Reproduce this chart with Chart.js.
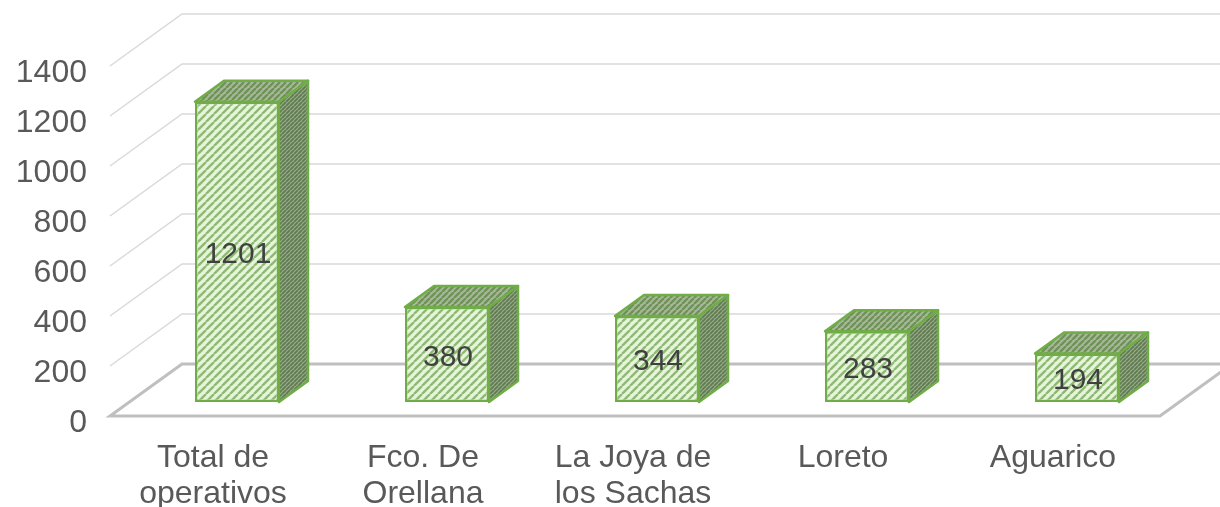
<!DOCTYPE html>
<html><head><meta charset="utf-8">
<style>html,body{margin:0;padding:0;background:#fff;overflow:hidden}canvas{display:block}</style>
<script src="https://cdn.jsdelivr.net/npm/chart.js@4"></script>
</head><body><canvas id="c" width="1220" height="507"></canvas>
<script>
const categories=[["Total de","operativos"],["Fco. De","Orellana"],["La Joya de","los Sachas"],["Loreto"],["Aguarico"]];
const values=[1201,380,344,283,194];
const yTicks=[0,200,400,600,800,1000,1200,1400];
const FONT='"Liberation Sans", Arial, sans-serif';
const WALL={dx:72,dy:-52}, BAR={dx:29,dy:-21}, SHIFT={dx:22,dy:-14};
function stripes(bg,fg,size,lw){
  const p=document.createElement('canvas');p.width=p.height=size;
  const x=p.getContext('2d');x.fillStyle=bg;x.fillRect(0,0,size,size);
  x.strokeStyle=fg;x.lineWidth=lw;
  x.beginPath();
  for(const o of [-size,0,size]){x.moveTo(o,size);x.lineTo(o+size,0);}
  x.stroke();
  return document.createElement('canvas').getContext('2d').createPattern(p,'repeat');
}
const facePat=stripes('#e6f5da','#8fb976',8,2.4);
const sidePat=stripes('#9aa893','#5f7d4c',4,1.8);
const topPat=stripes('#a9b89f','#6f9456',6,2.4);
const plugin3d={
  id:'plugin3d',
  afterLayout(chart){
    const s=chart.scales.y;
    if(s._shifted)return;
    s._shifted=true;
    const orig=s.drawLabels;
    s.drawLabels=function(a){const c=this.ctx;c.save();c.translate(0,7);orig.call(this,a);c.restore();};
  },
  beforeDatasetsDraw(chart){
    const {ctx,scales:{x,y}}=chart,l=x.left,r=x.right;
    ctx.save();ctx.lineCap='butt';ctx.lineJoin='miter';
    y.ticks.forEach((t,i)=>{
      const py=y.getPixelForTick(i);
      if(t.value===0)return;
      ctx.strokeStyle='#d9d9d9';ctx.lineWidth=1.5;
      ctx.beginPath();ctx.moveTo(l,py);ctx.lineTo(l+WALL.dx,py+WALL.dy);ctx.lineTo(1220,py+WALL.dy);ctx.stroke();
    });
    const py=y.getPixelForValue(0);
    ctx.strokeStyle='#bfbfbf';ctx.lineWidth=3;
    ctx.beginPath();ctx.moveTo(1220,py+WALL.dy);ctx.lineTo(l+WALL.dx,py+WALL.dy);ctx.lineTo(l,py);ctx.lineTo(r,py);
    ctx.lineTo(r+WALL.dx,py+WALL.dy);ctx.stroke();
    ctx.restore();
    ctx.save();ctx.translate(SHIFT.dx,SHIFT.dy);
  },
  afterDatasetsDraw(chart){
    const {ctx}=chart;
    chart.getDatasetMeta(0).data.forEach(b=>{
      const L=b.x-b.width/2,R=b.x+b.width/2,T=b.y,B=b.base;
      ctx.strokeStyle='#70ad47';ctx.lineWidth=2.5;ctx.lineJoin='round';
      ctx.fillStyle=sidePat;
      ctx.beginPath();ctx.moveTo(R,T);ctx.lineTo(R+BAR.dx,T+BAR.dy);ctx.lineTo(R+BAR.dx,B+BAR.dy);ctx.lineTo(R,B);ctx.closePath();ctx.fill();ctx.stroke();
      ctx.fillStyle=topPat;
      ctx.beginPath();ctx.moveTo(L,T);ctx.lineTo(L+BAR.dx,T+BAR.dy);ctx.lineTo(R+BAR.dx,T+BAR.dy);ctx.lineTo(R,T);ctx.closePath();ctx.fill();ctx.stroke();
    });
    ctx.fillStyle='#404040';ctx.font='30px '+FONT;ctx.textAlign='center';ctx.textBaseline='middle';
    chart.getDatasetMeta(0).data.forEach((b,i)=>{
      ctx.fillText(String(values[i]),b.x+1,(b.y+b.base)/2+3);
    });
    ctx.restore();
  }
};
new Chart(document.getElementById('c'),{
  type:'bar',
  data:{labels:categories,datasets:[{data:values,backgroundColor:facePat,borderColor:'#70ad47',borderWidth:2.5,borderSkipped:false,barPercentage:0.4,categoryPercentage:1}]},
  plugins:[plugin3d],
  options:{
    responsive:false,animation:false,
    layout:{padding:{top:66,right:60,left:0,bottom:0}},
    plugins:{legend:{display:false},tooltip:{enabled:false},title:{display:false}},
    scales:{
      x:{grid:{display:false},border:{display:false},
         afterFit(s){s.height=91;},
         ticks:{color:'#595959',font:{family:FONT,size:32,lineHeight:1.1},maxRotation:0,autoSkip:false,padding:17,labelOffset:-2}},
      y:{min:0,max:1400,grid:{display:false},border:{display:false},
         afterFit(s){s.width=110;},
         afterBuildTicks(s){s.ticks=yTicks.map(v=>({value:v}));},
         ticks:{color:'#595959',font:{family:FONT,size:32},padding:15,callback:v=>String(v)}}
    }
  }
});
</script></body></html>
